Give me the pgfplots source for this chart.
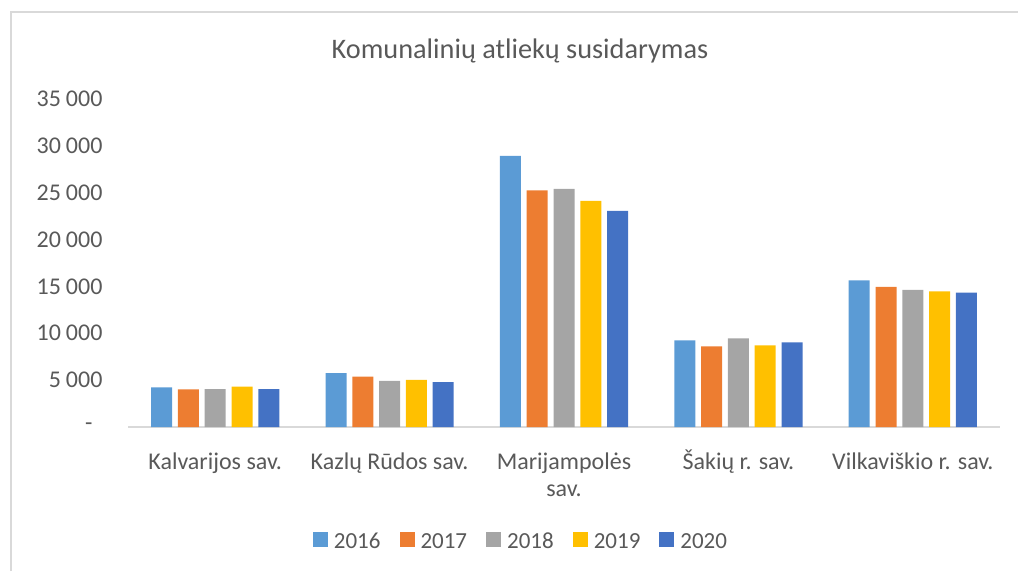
\documentclass[border=0pt]{standalone}
\usepackage{fontspec}
\setmainfont{Carlito}
\usepackage{pgfplots}
\pgfplotsset{compat=1.18}
\definecolor{txt}{HTML}{595959}
\definecolor{rule}{HTML}{D9D9D9}
\definecolor{c16}{HTML}{5B9BD5}
\definecolor{c17}{HTML}{ED7D31}
\definecolor{c18}{HTML}{A5A5A5}
\definecolor{c19}{HTML}{FFC000}
\definecolor{c20}{HTML}{4472C4}
\newcommand{\ths}{\hspace{5pt}}

\begin{document}
\begin{tikzpicture}
\path[use as bounding box] (0pt,0pt) rectangle (1018pt,-571pt);
\draw[rule, line width=1.3pt] (11pt,-571pt) -- (11pt,-12pt) -- (1018pt,-12pt);
\node[text=txt, font=\fontsize{28.3}{32}\selectfont] at (520pt,-51pt) {Komunalinių atliekų susidarymas};

\begin{axis}[
  at={(128pt,-427pt)}, anchor=south west,
  scale only axis, width=872pt, height=328pt,
  ybar=5.8pt, bar width=21pt,
  xmin=-0.5, xmax=4.5, ymin=0, ymax=35000,
  scaled y ticks=false,
  xtick={0,1,2,3,4},
  xticklabels={\strut Kalvarijos sav., \strut Kazlų Rūdos sav.,
    {\strut Marijampolės\\\strut sav.}, \strut Šakių r. sav., \strut Vilkaviškio r. sav.},
  ytick={0,5000,10000,15000,20000,25000,30000,35000},
  yticklabels={{-\hspace*{10pt}},5\ths000,10\ths000,15\ths000,20\ths000,25\ths000,30\ths000,35\ths000},
  axis x line*=bottom, axis y line*=left,
  x axis line style={rule, line width=1.3pt, -},
  y axis line style={draw=none},
  major tick length=0pt,
  tick label style={text=txt, font=\fontsize{24}{27}\selectfont},
  xticklabel style={align=center, anchor=north, inner sep=0pt, yshift=-23pt},
  yticklabel style={anchor=east, xshift=-22pt},
  legend columns=5,
  legend style={draw=none, at={(0.4495,-0.3445)}, anchor=center,
    font=\fontsize{23}{27}\selectfont, text=txt,
    nodes={inner sep=0pt},
    /tikz/every odd column/.append style={column sep=6pt},
    /tikz/every even column/.append style={column sep=19pt}},
  legend image code/.code={\fill[#1] (0pt,-6.5pt) rectangle (15pt,8.5pt);},
]
\addplot[fill=c16, draw=none] coordinates {(0,4240) (1,5760) (2,28920) (3,9250) (4,15660)};
\addplot[fill=c17, draw=none] coordinates {(0,4020) (1,5370) (2,25260) (3,8610) (4,14940)};
\addplot[fill=c18, draw=none] coordinates {(0,4050) (1,4910) (2,25400) (3,9460) (4,14620)};
\addplot[fill=c19, draw=none] coordinates {(0,4300) (1,5020) (2,24120) (3,8720) (4,14480)};
\addplot[fill=c20, draw=none] coordinates {(0,4050) (1,4800) (2,23050) (3,9040) (4,14330)};
\legend{\strut 2016,\strut 2017,\strut 2018,\strut 2019,\strut 2020}
\end{axis}
\end{tikzpicture}
\end{document}
